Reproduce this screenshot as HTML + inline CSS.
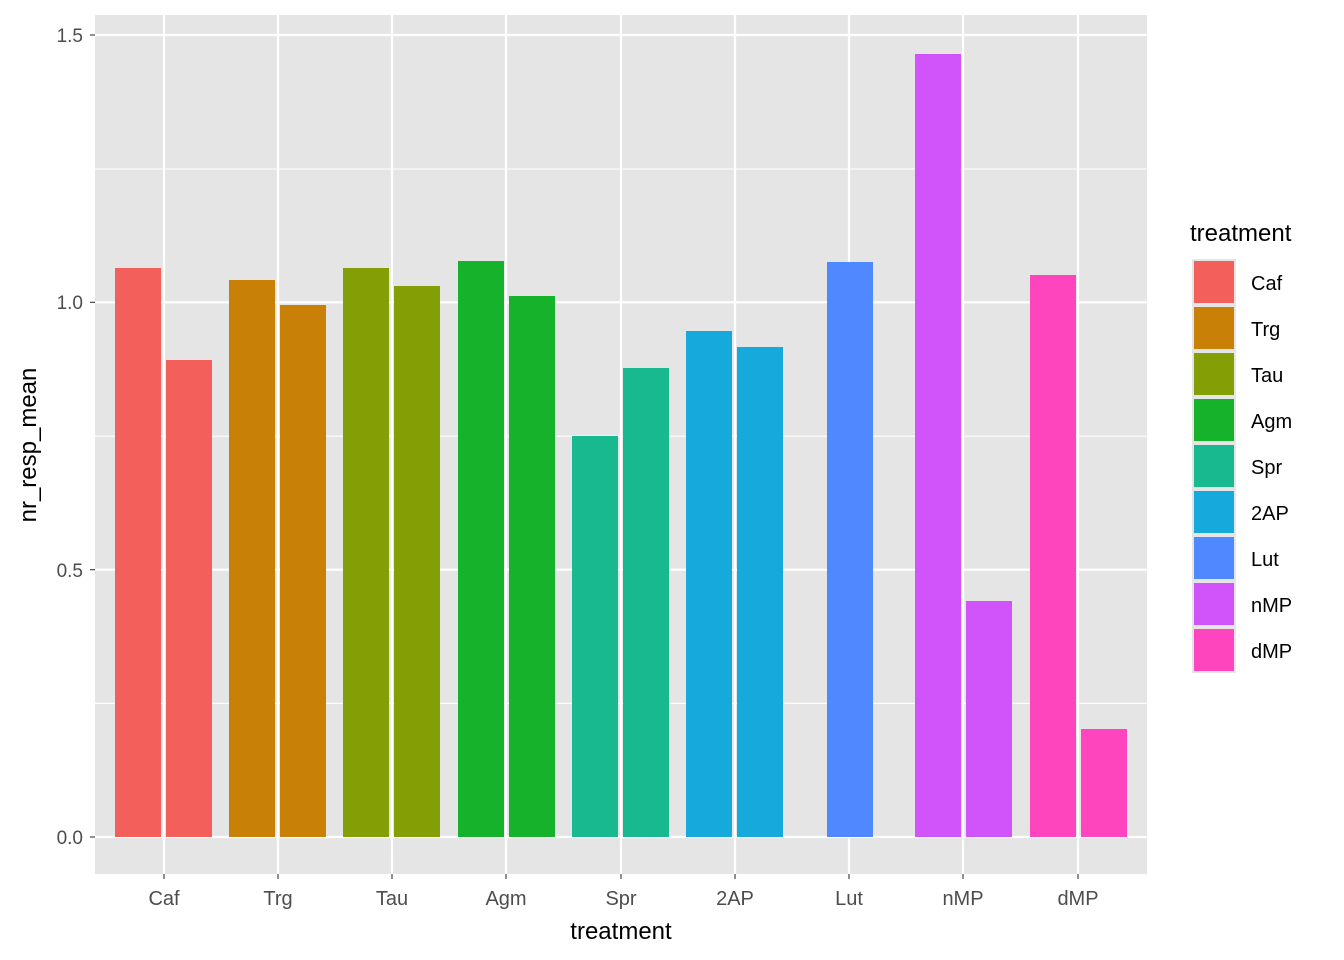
<!DOCTYPE html>
<html><head><meta charset="utf-8"><style>
html,body{margin:0;padding:0;background:#fff;}
svg{display:block;font-family:"Liberation Sans",Arial,sans-serif;}
</style></head><body>
<svg width="1344" height="960" viewBox="0 0 1344 960" xmlns="http://www.w3.org/2000/svg">
<rect x="95" y="15" width="1052" height="859" fill="#e5e5e5"/>
<g stroke="#fff" stroke-width="1.1">
<line x1="95" x2="1147" y1="703.3" y2="703.3"/>
<line x1="95" x2="1147" y1="436.2" y2="436.2"/>
<line x1="95" x2="1147" y1="169" y2="169"/>
</g>
<g stroke="#fff" stroke-width="2.2">
<line x1="95" x2="1147" y1="837" y2="837"/>
<line x1="95" x2="1147" y1="569.7" y2="569.7"/>
<line x1="95" x2="1147" y1="302.3" y2="302.3"/>
<line x1="95" x2="1147" y1="35" y2="35"/>
<line x1="164" x2="164" y1="15" y2="874"/>
<line x1="278" x2="278" y1="15" y2="874"/>
<line x1="392" x2="392" y1="15" y2="874"/>
<line x1="506" x2="506" y1="15" y2="874"/>
<line x1="621" x2="621" y1="15" y2="874"/>
<line x1="735" x2="735" y1="15" y2="874"/>
<line x1="849" x2="849" y1="15" y2="874"/>
<line x1="963" x2="963" y1="15" y2="874"/>
<line x1="1078" x2="1078" y1="15" y2="874"/>
</g>
<g>
<rect x="115" y="268" width="46" height="569" fill="#F3605B"/>
<rect x="166" y="360" width="46" height="477" fill="#F3605B"/>
<rect x="229" y="280" width="46" height="557" fill="#C88006"/>
<rect x="280" y="305" width="46" height="532" fill="#C88006"/>
<rect x="343" y="268" width="46" height="569" fill="#839F05"/>
<rect x="394" y="286" width="46" height="551" fill="#839F05"/>
<rect x="458" y="261" width="46" height="576" fill="#17B22C"/>
<rect x="509" y="296" width="46" height="541" fill="#17B22C"/>
<rect x="572" y="436" width="46" height="401" fill="#18B98F"/>
<rect x="623" y="368" width="46" height="469" fill="#18B98F"/>
<rect x="686" y="331" width="46" height="506" fill="#16A9DB"/>
<rect x="737" y="347" width="46" height="490" fill="#16A9DB"/>
<rect x="827" y="262" width="46" height="575" fill="#5088FF"/>
<rect x="915" y="54" width="46" height="783" fill="#D054F9"/>
<rect x="966" y="601" width="46" height="236" fill="#D054F9"/>
<rect x="1030" y="275" width="46" height="562" fill="#FF45BE"/>
<rect x="1081" y="729" width="46" height="108" fill="#FF45BE"/>
</g>
<g stroke="#333" stroke-width="1.1">
<line x1="90" x2="95" y1="837" y2="837"/>
<line x1="90" x2="95" y1="569.7" y2="569.7"/>
<line x1="90" x2="95" y1="302.3" y2="302.3"/>
<line x1="90" x2="95" y1="35" y2="35"/>
<line x1="164" x2="164" y1="874" y2="879"/>
<line x1="278" x2="278" y1="874" y2="879"/>
<line x1="392" x2="392" y1="874" y2="879"/>
<line x1="506" x2="506" y1="874" y2="879"/>
<line x1="621" x2="621" y1="874" y2="879"/>
<line x1="735" x2="735" y1="874" y2="879"/>
<line x1="849" x2="849" y1="874" y2="879"/>
<line x1="963" x2="963" y1="874" y2="879"/>
<line x1="1078" x2="1078" y1="874" y2="879"/>
</g>
<g fill="#4d4d4d" font-size="19" text-anchor="end">
<text x="83" y="844">0.0</text>
<text x="83" y="577">0.5</text>
<text x="83" y="309">1.0</text>
<text x="83" y="42">1.5</text>
</g>
<g fill="#4d4d4d" font-size="20" text-anchor="middle">
<text x="164" y="905">Caf</text>
<text x="278" y="905">Trg</text>
<text x="392" y="905">Tau</text>
<text x="506" y="905">Agm</text>
<text x="621" y="905">Spr</text>
<text x="735" y="905">2AP</text>
<text x="849" y="905">Lut</text>
<text x="963" y="905">nMP</text>
<text x="1078" y="905">dMP</text>
</g>
<text x="621" y="939" font-size="24" text-anchor="middle" fill="#000">treatment</text>
<text transform="translate(36,445) rotate(-90)" font-size="24" text-anchor="middle" fill="#000">nr_resp_mean</text>
<text x="1190" y="241" font-size="24" fill="#000">treatment</text>
<g stroke="#e5e5e5" stroke-width="2">
<rect x="1193" y="260" width="42" height="44" fill="#F3605B"/>
<rect x="1193" y="306" width="42" height="44" fill="#C88006"/>
<rect x="1193" y="352" width="42" height="44" fill="#839F05"/>
<rect x="1193" y="398" width="42" height="44" fill="#17B22C"/>
<rect x="1193" y="444" width="42" height="44" fill="#18B98F"/>
<rect x="1193" y="490" width="42" height="44" fill="#16A9DB"/>
<rect x="1193" y="536" width="42" height="44" fill="#5088FF"/>
<rect x="1193" y="582" width="42" height="44" fill="#D054F9"/>
<rect x="1193" y="628" width="42" height="44" fill="#FF45BE"/>
</g>
<g font-size="20" fill="#000">
<text x="1251" y="290">Caf</text>
<text x="1251" y="336">Trg</text>
<text x="1251" y="382">Tau</text>
<text x="1251" y="428">Agm</text>
<text x="1251" y="474">Spr</text>
<text x="1251" y="520">2AP</text>
<text x="1251" y="566">Lut</text>
<text x="1251" y="612">nMP</text>
<text x="1251" y="658">dMP</text>
</g>
</svg>
</body></html>
